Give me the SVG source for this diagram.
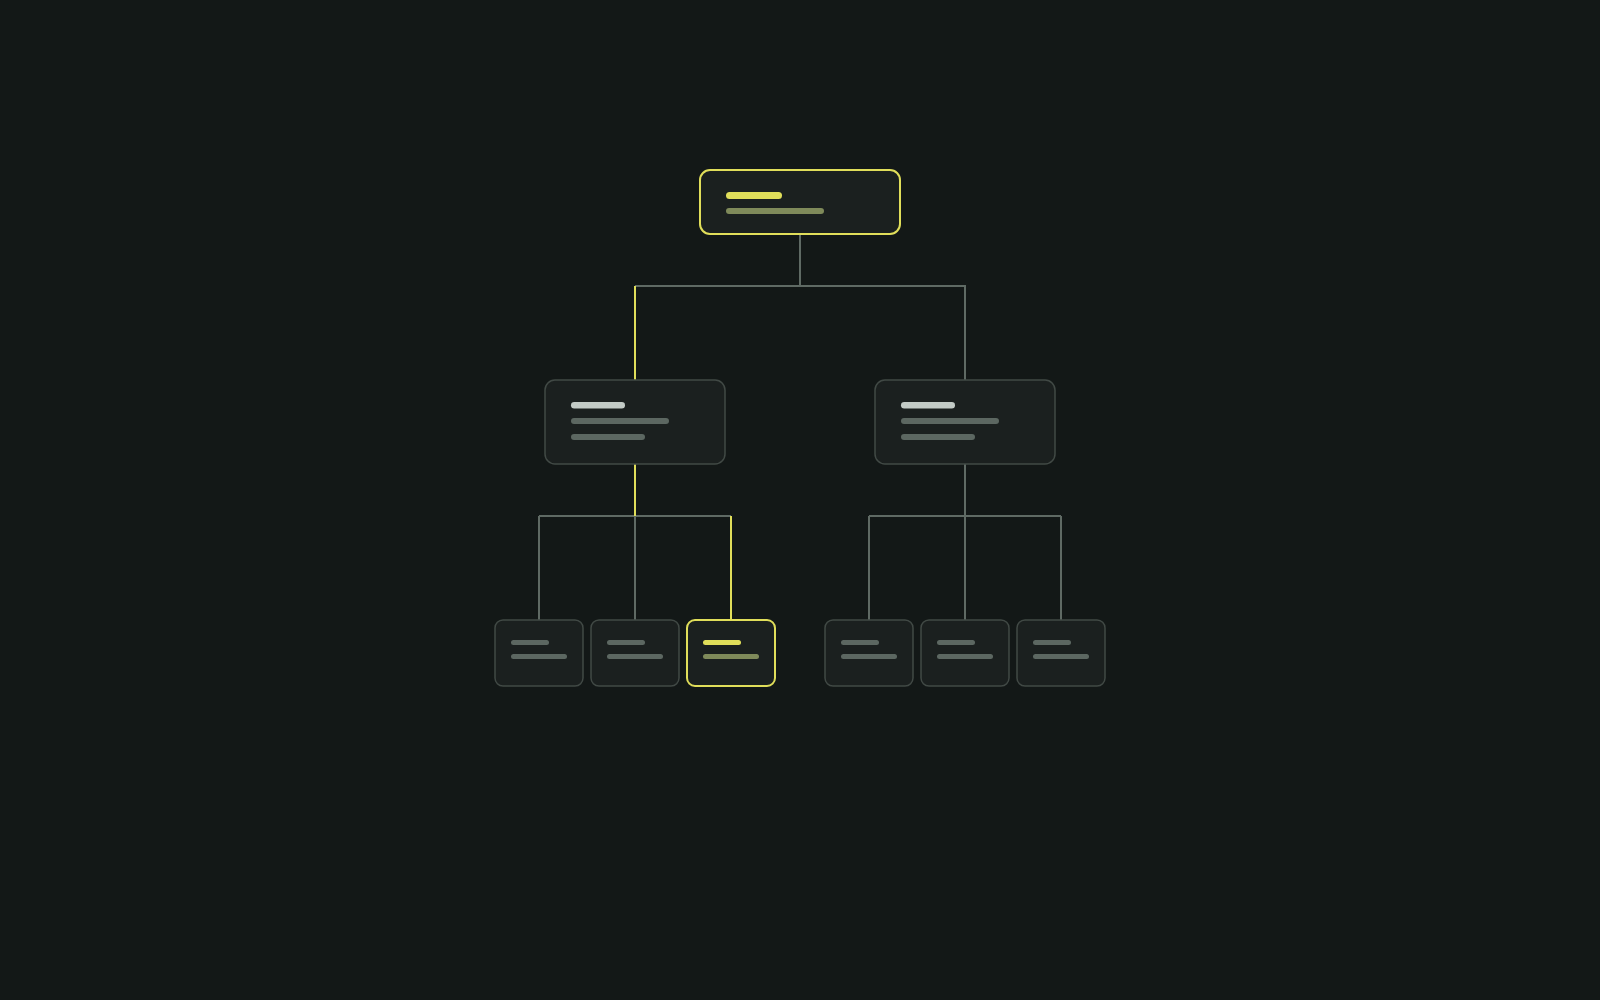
<svg xmlns="http://www.w3.org/2000/svg" width="1600" height="1000" viewBox="0 0 1600 1000">
<style>
.node{fill:#1b201f;stroke:#414945;stroke-width:1.5}
.hl{fill:#1b201f;stroke:#e0de5a;stroke-width:2}
.edge{fill:none;stroke:#5f6a64;stroke-width:2}
.edge-hl{fill:none;stroke:#e0de5a;stroke-width:2}
.b-title{fill:#c3cbc6}
.b-sub{fill:#5c6761}
.b-ytitle{fill:#e0de5a}
.b-ysub{fill:#7f8a5a}
</style>
<rect width="1600" height="1000" fill="#131817"/>
<g id="connectors">
<path class="edge" d="M800 234V286M635 286H965V380"/>
<path class="edge" d="M539 516H731M539 516V620M635 516V620"/>
<path class="edge" d="M965 464V516M869 516H1061M869 516V620M965 516V620M1061 516V620"/>
<path class="edge-hl" d="M635 286V380M635 464V516M731 516V620"/>
</g>
<g id="root">
<rect class="hl" x="700" y="170" width="200" height="64" rx="10"/>
<rect class="b-ytitle" x="726" y="192" width="56" height="7" rx="3.5"/>
<rect class="b-ysub" x="726" y="208" width="98" height="6" rx="3"/>
</g>
<g id="mid-left">
<rect class="node" x="545" y="380" width="180" height="84" rx="10"/>
<rect class="b-title" x="571" y="402" width="54" height="6.5" rx="3.2"/>
<rect class="b-sub" x="571" y="418" width="98" height="6" rx="3"/>
<rect class="b-sub" x="571" y="434" width="74" height="6" rx="3"/>
</g>
<g id="mid-right">
<rect class="node" x="875" y="380" width="180" height="84" rx="10"/>
<rect class="b-title" x="901" y="402" width="54" height="6.5" rx="3.2"/>
<rect class="b-sub" x="901" y="418" width="98" height="6" rx="3"/>
<rect class="b-sub" x="901" y="434" width="74" height="6" rx="3"/>
</g>
<g id="leaf-1">
<rect class="node" x="495" y="620" width="88" height="66" rx="8"/>
<rect class="b-sub" x="511" y="640" width="38" height="5" rx="2.5"/>
<rect class="b-sub" x="511" y="654" width="56" height="5" rx="2.5"/>
</g>
<g id="leaf-2">
<rect class="node" x="591" y="620" width="88" height="66" rx="8"/>
<rect class="b-sub" x="607" y="640" width="38" height="5" rx="2.5"/>
<rect class="b-sub" x="607" y="654" width="56" height="5" rx="2.5"/>
</g>
<g id="leaf-3">
<rect class="hl" x="687" y="620" width="88" height="66" rx="8"/>
<rect class="b-ytitle" x="703" y="640" width="38" height="5" rx="2.5"/>
<rect class="b-ysub" x="703" y="654" width="56" height="5" rx="2.5"/>
</g>
<g id="leaf-4">
<rect class="node" x="825" y="620" width="88" height="66" rx="8"/>
<rect class="b-sub" x="841" y="640" width="38" height="5" rx="2.5"/>
<rect class="b-sub" x="841" y="654" width="56" height="5" rx="2.5"/>
</g>
<g id="leaf-5">
<rect class="node" x="921" y="620" width="88" height="66" rx="8"/>
<rect class="b-sub" x="937" y="640" width="38" height="5" rx="2.5"/>
<rect class="b-sub" x="937" y="654" width="56" height="5" rx="2.5"/>
</g>
<g id="leaf-6">
<rect class="node" x="1017" y="620" width="88" height="66" rx="8"/>
<rect class="b-sub" x="1033" y="640" width="38" height="5" rx="2.5"/>
<rect class="b-sub" x="1033" y="654" width="56" height="5" rx="2.5"/>
</g>
</svg>
